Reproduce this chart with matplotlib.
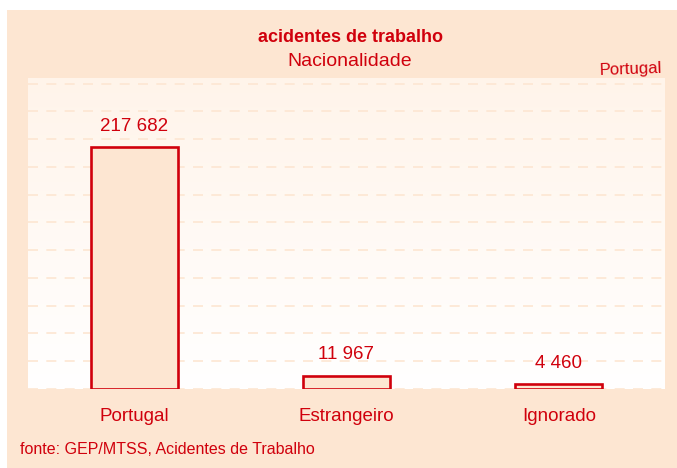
import numpy as np
import matplotlib
matplotlib.use("Agg")
from matplotlib import pyplot as plt
from matplotlib.patches import Rectangle
from matplotlib.colors import LinearSegmentedColormap

categories = ["Portugal", "Estrangeiro", "Ignorado"]
values = [217682, 11967, 4460]
value_labels = ["217 682", "11 967", "4 460"]

red = "#D0000C"
peach = "#FDE6D2"
W, H = 677, 468

plt.rcParams["font.family"] = ["Liberation Sans", "DejaVu Sans"]

fig = plt.figure(figsize=(W / 100, H / 100), dpi=100)
fig.patch.set_facecolor("white")
panel = Rectangle((7 / W, 0), 1 - 7 / W, 1 - 10 / H, transform=fig.transFigure,
                  facecolor=peach, edgecolor="none", zorder=-10)
fig.add_artist(panel)

ax = fig.add_axes([28 / W, (H - 389) / H, 637 / W, 311 / H])
ax.set_facecolor("none")
ax.set_xlim(-0.5, 2.5)
ax.set_ylim(0, 280000)

# soft gradient behind the plot
cmap = LinearSegmentedColormap.from_list("bg", ["#FFFFFF", "#FFF4EA"])
grad = np.linspace(0, 1, 256)[:, None]
ax.imshow(grad, cmap=cmap, extent=[-0.5, 2.5, 0, 280000], aspect="auto",
          origin="lower", zorder=0)

for y in range(0, 280000, 25000):
    ax.axhline(y, color=peach, lw=1.2, ls=(0, (6, 5)), zorder=1)

x = np.arange(len(categories))
ax.bar(x, values, width=0.41, color=peach, edgecolor=red, linewidth=1.9, zorder=3)
for xi, v, lab in zip(x, values, value_labels):
    ax.annotate(lab, (xi, v), xytext=(0, 9), textcoords="offset points",
                ha="center", va="bottom", color=red, fontsize=13.5)

ax.set_xticks(x)
ax.set_xticklabels(categories, color=red, fontsize=13.5)
ax.tick_params(axis="x", length=0, pad=14)
ax.set_yticks([])
for s in ax.spines.values():
    s.set_visible(False)

fig.text(350 / W, 1 - 38 / H, "acidentes de trabalho", ha="center", va="center",
         color=red, fontsize=13, fontweight="bold")
fig.text(350 / W, 1 - 62 / H, "Nacionalidade", ha="center", va="center",
         color=red, fontsize=14)
fig.text(662 / W, 1 - 69 / H, "Portugal", ha="right", va="center",
         color=red, fontsize=12, rotation=2)
fig.text(20 / W, 1 - 450 / H, "fonte: GEP/MTSS, Acidentes de Trabalho", ha="left",
         va="center", color=red, fontsize=11.5)

fig.savefig("out.png", dpi=100)
